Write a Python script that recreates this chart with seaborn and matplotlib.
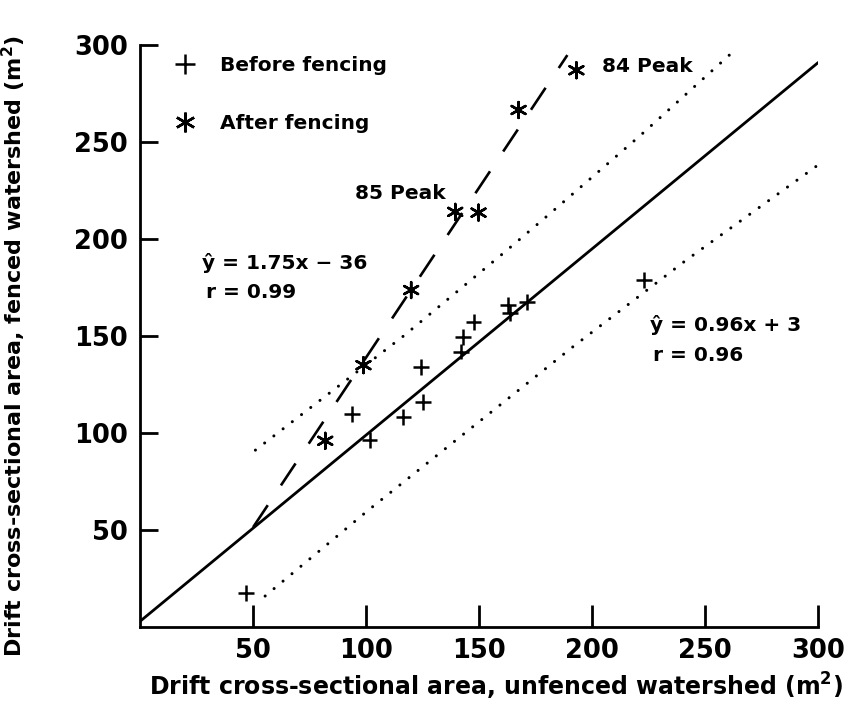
import pandas as pd
import matplotlib
matplotlib.use("Agg")
import matplotlib.pyplot as plt
import seaborn as sns

# Valores (m2)
before_x = [46.8, 93.7, 101.5, 116.5, 125.0, 124.3, 142.0, 143.0, 147.5, 162.7, 163.7, 171.0, 223.0]
before_y = [17.4, 110.0, 96.4, 108.4, 116.0, 133.9, 142.0, 149.3, 157.4, 166.0, 161.7, 167.7, 178.9]
after_x = [81.9, 98.8, 119.9, 139.4, 149.7, 167.4, 193.0]
after_y = [96.0, 135.0, 173.7, 214.0, 213.6, 266.5, 287.0]

# Rectas de regresion y bandas (extremos)
fit_before_x = [0, 300]
fit_before_y = [3, 291]
fit_after_x = [50, 189]
fit_after_y = [51.5, 294.8]
band_upper_x = [51.0, 116.5, 161.5, 181.4, 221.2, 261.8]
band_upper_y = [91.2, 150.0, 193.5, 213.2, 253.3, 296.0]
band_lower_x = [55.3, 101.0, 191.5, 241.2, 300.9]
band_lower_y = [16.0, 60.3, 144.5, 188.8, 239.0]

ticks = [50, 100, 150, 200, 250, 300]

df = pd.DataFrame({
    'x': before_x + after_x,
    'y': before_y + after_y,
    'periodo': ['Before fencing'] * len(before_x) + ['After fencing'] * len(after_x),
})

sns.set_style('ticks')
plt.rcParams['font.family'] = ['DejaVu Sans']
plt.rcParams['font.weight'] = 'bold'
for k in ['text.color', 'axes.labelcolor', 'xtick.color', 'ytick.color', 'axes.edgecolor']:
    plt.rcParams[k] = 'black'

fig = plt.figure(figsize=(8.65, 7.03), dpi=100)
ax = fig.add_axes([0.162, 0.108, 0.784, 0.828])

# lineas
sns.lineplot(x=fit_before_x, y=fit_before_y, ax=ax, color='black', linewidth=2.0, estimator=None, sort=False)
sns.lineplot(x=fit_after_x, y=fit_after_y, ax=ax, color='black', linewidth=1.9, estimator=None, sort=False,
             linestyle=(0, (10, 9)))
for bx, by in [(band_upper_x, band_upper_y), (band_lower_x, band_lower_y)]:
    sns.lineplot(x=bx, y=by, ax=ax, color='black', linewidth=2.2, estimator=None, sort=False,
                 linestyle=(0, (0.01, 3.8)), dash_capstyle='round')

sns.scatterplot(data=df, x='x', y='y', style='periodo', ax=ax,
                style_order=['Before fencing', 'After fencing'],
                markers={'Before fencing': '+', 'After fencing': (6, 2, 0)},
                color='black', s=130, linewidth=1.8, zorder=5)

sns.move_legend(ax, 'upper left', bbox_to_anchor=(0.033, 0.998), frameon=False, title=None,
                fontsize=14.5, labelspacing=1.95, handletextpad=1.15, borderpad=0, handlelength=1.2,
                markerscale=1.25)

ax.set_xlim(0, 300)
ax.set_ylim(0, 300)
ax.set_xticks(ticks)
ax.set_yticks(ticks)
sns.despine(ax=ax)
for side in ['left', 'bottom']:
    ax.spines[side].set_linewidth(2)
ax.tick_params(axis='x', direction='in', length=16, width=2, pad=8, labelsize=18.5)
ax.tick_params(axis='y', direction='in', length=13, width=2, pad=9, labelsize=18.5)

ax.set_xlabel('Drift cross-sectional area, unfenced watershed (m$^\\mathbf{2}$)', fontsize=17, fontweight='bold')
ax.set_ylabel('Drift cross-sectional area, fenced watershed (m$^\\mathbf{2}$)', fontsize=16, fontweight='bold')
ax.xaxis.set_label_coords(0.525, -0.075)
ax.yaxis.set_label_coords(-0.165, 0.482)

# anotaciones
ax.text(204.4, 288.7, '84 Peak', fontsize=14.5, fontweight='bold', va='center', ha='left')
ax.text(95.1, 223.7, '85 Peak', fontsize=14.5, fontweight='bold', va='center', ha='left')
ax.text(27.4, 187.6, 'ŷ = 1.75x − 36', fontsize=14.5, fontweight='bold', va='center', ha='left')
ax.text(29.2, 172.2, 'r = 0.99', fontsize=14.5, fontweight='bold', va='center', ha='left')
ax.text(225.7, 155.7, 'ŷ = 0.96x + 3', fontsize=14.5, fontweight='bold', va='center', ha='left')
ax.text(227.0, 140.2, 'r = 0.96', fontsize=14.5, fontweight='bold', va='center', ha='left')

fig.savefig('out.png', dpi=100)
